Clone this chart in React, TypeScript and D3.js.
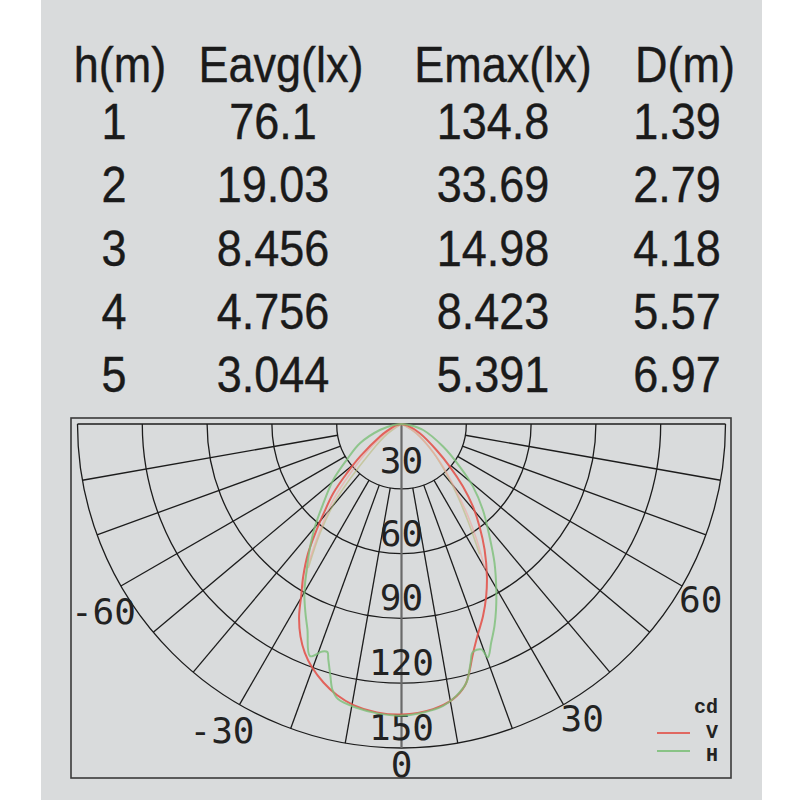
import React from "react";
import * as d3 from "d3";

// ---------- table data ----------
const headers = ["h(m)", "Eavg(lx)", "Emax(lx)", "D(m)"];
const heights = ["1", "2", "3", "4", "5"];
const eavg = ["76.1", "19.03", "8.456", "4.756", "3.044"];
const emax = ["134.8", "33.69", "14.98", "8.423", "5.391"];
const dist = ["1.39", "2.79", "4.18", "5.57", "6.97"];

// ---------- polar grid ----------
const ringValues = [30, 60, 90, 120, 150];
const spokeAngles = [-80, -70, -60, -50, -40, -30, -20, -10, 10, 20, 30, 40, 50, 60, 70, 80];
const angleLabels = [-60, -30, 30, 60];
const maxCd = 150;

// ---------- curves (gamma deg, cd) ----------
const vAngles = [-90, -75, -65, -60, -52, -48, -44.6, -41, -38.4, -35.8, -32.8, -30.3, -28, -25.4, -22.9, -20.2, -16.8, -13.4, -9.7, -4.9, 0,
  6.3, 10.6, 13.6, 15.3, 17.1, 19.8, 23, 26.2, 29.3, 33.5, 37.3, 40.9, 44.5, 48.6, 53.4, 63, 75, 90];
const vCd = [0, 3, 7, 11.5, 24, 34, 45, 55, 64, 74, 84, 92, 101, 109, 115, 120, 125, 129, 132, 134, 134.5,
  132.8, 129.6, 124.7, 119, 112, 104, 96.6, 88.8, 80.8, 69.7, 59.6, 50.5, 40.6, 29.8, 20, 9.5, 3, 0];

const hAngles = [-90, -82, -74.5, -65.1, -56.8, -50.7, -44.6, -40.2, -36.2, -32.6, -29.9, -27, -24.6, -21.5, -19.2, -18, -17.3, -15.8, -14.6, -13, -9, -4.5, 0,
  4.3, 8.4, 11.4, 14.1, 15.2, 16.2, 17.3, 19.5, 20.3, 22.3, 24.7, 27, 29.8, 33.8, 38.1, 43.5, 48.8, 53.8, 61.5, 74.5, 82, 90];
const hCd = [0, 4, 10.4, 21.2, 30.3, 40.8, 51.5, 62, 72, 81.8, 90.2, 98, 104.6, 115.5, 111.5, 111, 114, 121, 127, 130.7, 133, 134.5, 135,
  133.9, 131.9, 128.4, 123.4, 119.2, 114.8, 110.7, 110.7, 115.2, 109.4, 103, 96.4, 88.3, 77.4, 66, 54.7, 44, 33.4, 21.9, 10.4, 4, 0];

// faint companion traces near the top
const v2Angles = [-31, -34, -38, -42, -46, -52, -62, -90, 90, 62, 52, 45, 40, 36, 33, 30];
const v2Cd = [88, 76, 60, 47, 33, 19, 6, 0, 0, 5, 14, 26, 38, 52, 64, 77];
const h2Angles = [-33, -36.8, -40.8, -47.4, -55, -90, 90, 58, 48, 43, 38, 34, 31];
const h2Cd = [79, 62.8, 46.3, 19.8, 8, 0, 0, 8, 20, 29, 42, 56, 70];

const legendItems = [
  { label: "V", color: "#e2544c" },
  { label: "H", color: "#7cbf78" },
];

export default function App() {
  const W = 800, H = 800;
  const cx = 401.5, cy = 424, R = 324;
  const r = d3.scaleLinear().domain([0, maxCd]).range([0, R]);
  const rad = (g: number) => (g * Math.PI) / 180;
  const pt = (g: number, rr: number): [number, number] => [cx + rr * Math.sin(rad(g)), cy + rr * Math.cos(rad(g))];

  const radial = (angles: number[], vals: number[]) => {
    const data = angles.map((a, i) => [a, vals[i]] as [number, number]);
    return d3
      .lineRadial<[number, number]>()
      .angle((d) => Math.PI - rad(d[0]))
      .radius((d) => r(d[1]))
      .curve(d3.curveCatmullRom.alpha(0.5))(data) as string;
  };

  const ringPath = (v: number) => {
    const p = d3.path();
    p.moveTo(cx + r(v), cy);
    p.arc(cx, cy, r(v), 0, Math.PI, false);
    return p.toString();
  };

  const colX = [114, 273, 493, 677];
  const headX = [120, 281, 503, 685];
  const rowY = (i: number) => 139 + i * 63.3;
  const columns = [heights, eavg, emax, dist];
  const tableFont = "'Liberation Sans', Arial, Helvetica, sans-serif";
  const monoFont = "'DejaVu Sans Mono', monospace";

  const cell = (txt: string, x: number, y: number, key: string) => (
    <text key={key} transform={`translate(${x},${y}) scale(0.9,1)`} textAnchor="middle" fontSize={50} fontFamily={tableFont} fill="#1a1a1a" stroke="#1a1a1a" strokeWidth={0.4}>
      {txt}
    </text>
  );

  return (
    <svg width={W} height={H} style={{ position: "absolute", left: 0, top: 0 }} xmlns="http://www.w3.org/2000/svg">
      <rect x={0} y={0} width={W} height={H} fill="#ffffff" />
      <rect x={41} y={0} width={721} height={H} fill="#d9dbdc" />

      {/* table */}
      {headers.map((h, i) => cell(h, headX[i], 82, "h" + i))}
      {columns.map((col, ci) => col.map((v, ri) => cell(v, colX[ci], rowY(ri), `c${ci}-${ri}`)))}

      {/* chart box */}
      <rect x={71} y={418} width={660} height={360} fill="none" stroke="#3a3a3a" strokeWidth={1.6} />

      {/* grid */}
      <g stroke="#1c1c1c" strokeWidth={1.3} fill="none">
        <line x1={cx - R} y1={cy} x2={cx + R} y2={cy} />
        {ringValues.map((v) => (
          <path key={"ring" + v} d={ringPath(v)} />
        ))}
        {spokeAngles.map((g) => {
          const [x1, y1] = pt(g, r(ringValues[0]));
          const [x2, y2] = pt(g, r(maxCd));
          return <line key={"sp" + g} x1={x1} y1={y1} x2={x2} y2={y2} />;
        })}
      </g>
      <line x1={cx} y1={cy} x2={cx} y2={cy + R} stroke="#6a6a6a" strokeWidth={2.2} />

      {/* ring labels */}
      <g fontFamily={monoFont} fontSize={36} fill="#222" textAnchor="middle">
        {ringValues.map((v, i) => (
          <text key={"rl" + v} x={cx} y={cy + r(v) - 8 - (i === 0 ? 8 : 0)}>
            {String(v)}
          </text>
        ))}
        <text x={cx} y={777}>0</text>
      </g>

      {/* curves */}
      <g fill="none" strokeLinejoin="round" strokeLinecap="round" transform={`translate(${cx},${cy})`}>
        <path d={radial(h2Angles, h2Cd)} stroke="#b9b97a" strokeWidth={1.6} opacity={0.6} />
        <path d={radial(v2Angles, v2Cd)} stroke="#eea59c" strokeWidth={1.6} opacity={0.6} />
        <path d={radial(vAngles, vCd)} stroke="#e2544c" strokeWidth={2} opacity={0.9} />
        <path d={radial(hAngles, hCd)} stroke="#7cbf78" strokeWidth={2} opacity={0.8} />
      </g>

      {/* angle labels */}
      <g fontFamily={monoFont} fontSize={36} fill="#222">
        {angleLabels.map((g) => {
          const [px, py] = pt(g, R);
          return g > 0 ? (
            <text key={"al" + g} x={px - 3} y={py + 26} textAnchor="start">
              {String(g)}
            </text>
          ) : (
            <text key={"al" + g} x={px + 15} y={py + 38} textAnchor="end">
              {String(g)}
            </text>
          );
        })}
      </g>

      {/* legend */}
      <g fontFamily="'Liberation Mono', 'Courier New', monospace" fontWeight="bold" fontSize={20} fill="#222" textAnchor="end">
        <text x={718} y={713}>cd</text>
        {legendItems.map((it, i) => (
          <g key={it.label}>
            <line x1={657} x2={690} y1={733 + i * 18} y2={733 + i * 18} stroke={it.color} strokeWidth={2} opacity={0.85} />
            <text x={718} y={738 + i * 23}>{it.label}</text>
          </g>
        ))}
      </g>
    </svg>
  );
}
